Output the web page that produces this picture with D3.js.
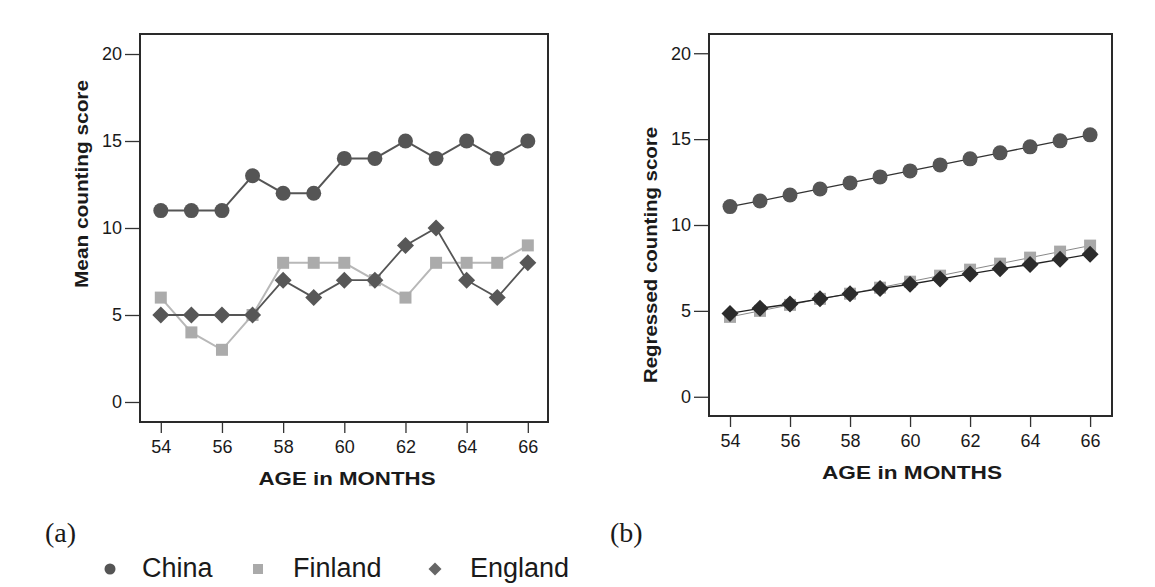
<!DOCTYPE html>
<html>
<head>
<meta charset="utf-8">
<script src="https://cdn.jsdelivr.net/npm/d3@7"></script>
<style>
  body { margin: 0; background: #fff; }
  svg { display: block; }
  text { font-family: "Liberation Sans", Arial, sans-serif; fill: #1a1a1a; }
</style>
</head>
<body>
<div id="chart"></div>
<script>
const months = [54, 55, 56, 57, 58, 59, 60, 61, 62, 63, 64, 65, 66];
const xTicks = [54, 56, 58, 60, 62, 64, 66];
const yTicks = [0, 5, 10, 15, 20];

// (a) mean counting score
const meanChina = [11, 11, 11, 13, 12, 12, 14, 14, 15, 14, 15, 14, 15];
const meanFinland = [6, 4, 3, 5, 8, 8, 8, 7, 6, 8, 8, 8, 9];
const meanEngland = [5, 5, 5, 5, 7, 6, 7, 7, 9, 10, 7, 6, 8];

// (b) regressed counting score
const regChina = [11.07, 11.4, 11.75, 12.1, 12.45, 12.8, 13.15, 13.5, 13.85, 14.2, 14.55, 14.9, 15.25];
const regFinland = [4.65, 5.0, 5.35, 5.7, 6.0, 6.35, 6.7, 7.05, 7.4, 7.75, 8.1, 8.45, 8.8];
const regEngland = [4.85, 5.15, 5.4, 5.7, 6.0, 6.3, 6.55, 6.85, 7.15, 7.45, 7.7, 8.0, 8.3];

const countries = ['China', 'Finland', 'England'];

const width = 1155;
const height = 587;

const svg = d3.select('#chart')
  .append('svg')
  .attr('width', width)
  .attr('height', height);

function diamond(r) {
  return `M0,${-r}L${r},0L0,${r}L${-r},0Z`;
}

function drawPanel(p) {
  const x = d3.scaleLinear().domain(p.xDomain).range([p.left, p.right]);
  const y = d3.scaleLinear().domain(p.yDomain).range([p.bottom, p.top]);
  const g = svg.append('g');

  // y axis
  g.append('g')
    .attr('transform', `translate(${p.left},0)`)
    .call(d3.axisLeft(y).tickValues(yTicks).tickSize(15).tickPadding(3))
    .call(a => a.select('.domain').remove())
    .call(a => a.selectAll('line').attr('stroke', '#333').attr('stroke-width', 1.3))
    .call(a => a.selectAll('text').attr('font-size', 18).attr('fill', '#1a1a1a')
      .style('font-family', '"Liberation Sans", Arial, sans-serif'));

  // x axis
  g.append('g')
    .attr('transform', `translate(0,${p.bottom})`)
    .call(d3.axisBottom(x).tickValues(xTicks).tickSize(11).tickPadding(7))
    .call(a => a.select('.domain').remove())
    .call(a => a.selectAll('line').attr('stroke', '#333').attr('stroke-width', 1.3))
    .call(a => a.selectAll('text').attr('font-size', 18).attr('fill', '#1a1a1a')
      .style('font-family', '"Liberation Sans", Arial, sans-serif'));

  // frame
  g.append('rect')
    .attr('x', p.left).attr('y', p.top)
    .attr('width', p.right - p.left).attr('height', p.bottom - p.top)
    .attr('fill', 'none').attr('stroke', '#2a2a2a').attr('stroke-width', 2);

  const line = d3.line().x((d, i) => x(months[i])).y(d => y(d));

  p.series.forEach(s => {
    g.append('path')
      .datum(s.values)
      .attr('d', line)
      .attr('fill', 'none')
      .attr('stroke', s.lineColor)
      .attr('stroke-width', s.lineWidth);

    const m = g.append('g').selectAll('path')
      .data(s.values)
      .join('path')
      .attr('transform', (d, i) => `translate(${x(months[i])},${y(d)})`)
      .attr('fill', s.color);
    if (s.shape === 'circle') m.attr('d', d3.symbol(d3.symbolCircle, Math.PI * s.size * s.size));
    else if (s.shape === 'square') m.attr('d', `M${-s.size},${-s.size}h${2 * s.size}v${2 * s.size}h${-2 * s.size}Z`);
    else m.attr('d', diamond(s.size));
  });

  // axis titles
  g.append('text')
    .attr('x', p.xTitleX).attr('y', p.xTitleY)
    .attr('text-anchor', 'middle')
    .attr('font-size', 19).attr('font-weight', 'bold')
    .attr('textLength', p.xTitleLen).attr('lengthAdjust', 'spacingAndGlyphs')
    .text('AGE in MONTHS');

  g.append('text')
    .attr('transform', `translate(${p.yTitleX},${p.yTitleY}) rotate(-90)`)
    .attr('text-anchor', 'middle')
    .attr('font-size', 19).attr('font-weight', 'bold')
    .attr('textLength', p.yTitleLen).attr('lengthAdjust', 'spacingAndGlyphs')
    .text(p.yTitle);
}

drawPanel({
  left: 140, right: 548, top: 34, bottom: 422,
  xDomain: [53.32, 66.66], yDomain: [-1.15, 21.15],
  xTitleX: 347, xTitleY: 485, xTitleLen: 177,
  yTitleX: 88, yTitleY: 184, yTitleLen: 208,
  yTitle: 'Mean counting score',
  series: [
    { values: meanChina, shape: 'circle', size: 7.5, color: '#555', lineColor: '#555', lineWidth: 2 },
    { values: meanFinland, shape: 'square', size: 6, color: '#ababab', lineColor: '#b8b8b8', lineWidth: 2 },
    { values: meanEngland, shape: 'diamond', size: 8.5, color: '#575757', lineColor: '#555', lineWidth: 1.8 }
  ]
});

drawPanel({
  left: 709, right: 1112, top: 34, bottom: 416,
  xDomain: [53.3, 66.73], yDomain: [-1.12, 21.12],
  xTitleX: 912, xTitleY: 479, xTitleLen: 180,
  yTitleX: 657, yTitleY: 255, yTitleLen: 256,
  yTitle: 'Regressed counting score',
  series: [
    { values: regChina, shape: 'circle', size: 7.5, color: '#555', lineColor: '#333', lineWidth: 1.3 },
    { values: regFinland, shape: 'square', size: 6, color: '#a8a8a8', lineColor: '#888', lineWidth: 1 },
    { values: regEngland, shape: 'diamond', size: 8.5, color: '#2b2b2b', lineColor: '#222', lineWidth: 1.3 }
  ]
});

// panel labels
svg.append('text').attr('x', 45).attr('y', 542)
  .style('font-family', '"Liberation Serif", "Times New Roman", serif')
  .attr('font-size', 28).text('(a)');
svg.append('text').attr('x', 610).attr('y', 542)
  .style('font-family', '"Liberation Serif", "Times New Roman", serif')
  .attr('font-size', 28).text('(b)');

// legend
const legendX = [110, 258, 435];
const textX = [142, 293, 470];
const legend = svg.append('g');
countries.forEach((c, i) => {
  const cy = 569;
  if (i === 0) legend.append('circle').attr('cx', legendX[i]).attr('cy', cy).attr('r', 5.5).attr('fill', '#555');
  if (i === 1) legend.append('rect').attr('x', legendX[i] - 5).attr('y', cy - 5).attr('width', 10).attr('height', 10).attr('fill', '#aaa');
  if (i === 2) legend.append('path').attr('transform', `translate(${legendX[i]},${cy})`).attr('d', diamond(6.5)).attr('fill', '#666');
  legend.append('text').attr('x', textX[i]).attr('y', 577).attr('font-size', 27).text(c);
});
</script>
</body>
</html>
